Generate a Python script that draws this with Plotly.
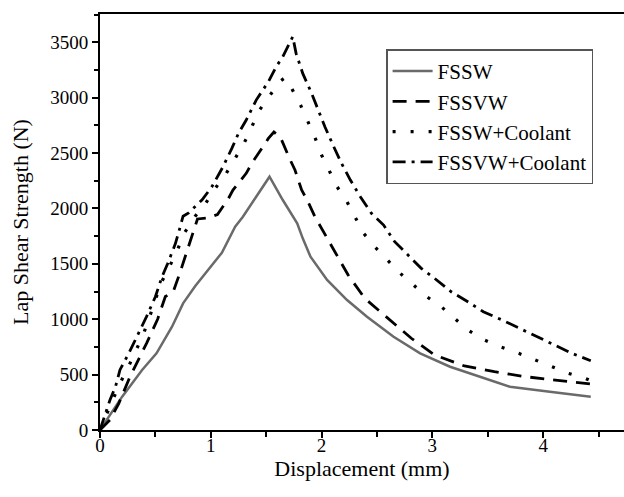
import plotly.graph_objects as go

# ---- data ----
fssw_x = [0, 0.10, 0.20, 0.38, 0.51, 0.65, 0.75, 0.86, 0.98, 1.10, 1.22, 1.29, 1.41, 1.53,
          1.65, 1.78, 1.83, 1.90, 2.05, 2.23, 2.41, 2.65, 2.89, 3.16, 3.43, 3.70, 4.06, 4.43]
fssw_y = [0, 150, 301, 542, 692, 932, 1143, 1300, 1455, 1600, 1835, 1925, 2106, 2286,
          2076, 1865, 1730, 1564, 1354, 1173, 1023, 842, 692, 571, 481, 391, 346, 301]

fssvw_x = [0, 0.09, 0.17, 0.27, 0.42, 0.52, 0.59, 0.66, 0.72, 0.80, 0.88, 0.98, 1.06, 1.16,
           1.20, 1.32, 1.37, 1.46, 1.52, 1.57, 1.63, 1.71, 1.76, 1.82, 1.87, 1.94, 2.11,
           2.24, 2.39, 2.60, 2.81, 3.02, 3.29, 3.56, 3.84, 4.11, 4.43]
fssvw_y = [0, 90, 241, 480, 782, 1000, 1205, 1245, 1414, 1657, 1905, 1915, 1945, 2091,
           2166, 2317, 2407, 2542, 2632, 2690, 2640, 2452, 2347, 2166, 2076, 1925, 1625,
           1399, 1188, 1008, 828, 677, 578, 526, 481, 451, 415]

fsswc_x = [0, 0.08, 0.17, 0.27, 0.39, 0.48, 0.55, 0.63, 0.70, 0.76, 0.86, 0.95, 1.04, 1.14,
           1.22, 1.30, 1.37, 1.44, 1.53, 1.62, 1.67, 1.73, 1.81, 1.87, 1.94, 2.00, 2.14,
           2.23, 2.38, 2.48, 2.60, 2.71, 2.83, 2.95, 3.08, 3.20, 3.32, 3.47, 3.61, 3.78,
           3.93, 4.08, 4.23, 4.38, 4.43]
fsswc_y = [0, 180, 400, 600, 860, 1114, 1325, 1480, 1627, 1777, 1930, 2040, 2181, 2317,
           2452, 2587, 2737, 2888, 3014, 3144, 3180, 3084, 2933, 2798, 2642, 2482, 2196,
           2060, 1775, 1654, 1534, 1414, 1309, 1203, 1113, 1008, 903, 812, 752, 692,
           632, 571, 511, 466, 445]

fssvwc_x = [0, 0.09, 0.14, 0.18, 0.26, 0.35, 0.42, 0.50, 0.56, 0.61, 0.68, 0.72, 0.75, 0.80,
            0.92, 1.01, 1.11, 1.19, 1.25, 1.32, 1.41, 1.52, 1.59, 1.65, 1.74, 1.77, 1.83,
            1.91, 1.97, 2.03, 2.11, 2.18, 2.26, 2.35, 2.45, 2.56, 2.66, 2.78, 2.90, 3.02,
            3.17, 3.32, 3.46, 3.63, 3.94, 4.26, 4.43]
fssvwc_y = [0, 271, 391, 542, 692, 873, 1023, 1203, 1384, 1500, 1680, 1820, 1930, 1960,
            2076, 2196, 2376, 2542, 2678, 2798, 2978, 3144, 3279, 3369, 3550, 3400, 3219,
            3039, 2888, 2737, 2557, 2407, 2256, 2106, 1956, 1850, 1700, 1579, 1459, 1369,
            1248, 1158, 1068, 993, 842, 692, 625]

series_names = ["FSSW", "FSSVW", "FSSW+Coolant", "FSSVW+Coolant"]
x_ticks = [0, 1, 2, 3, 4]
y_ticks = [0, 500, 1000, 1500, 2000, 2500, 3000, 3500]

FONT = '"Liberation Serif", "Times New Roman", serif'

fig = go.Figure()
styles = [
    dict(color="#6a6a6a", width=2.5, dash="solid"),
    dict(color="black", width=2.8, dash="14px,9px"),
    dict(color="black", width=3.2, dash="3px,15px"),
    dict(color="black", width=2.8, dash="13px,6px,3px,6px"),
]
data = [(fssw_x, fssw_y), (fssvw_x, fssvw_y), (fsswc_x, fsswc_y), (fssvwc_x, fssvwc_y)]
for (xs, ys), name, st in zip(data, series_names, styles):
    fig.add_trace(go.Scatter(x=xs, y=ys, mode="lines", name=name, line=st))

fig.update_layout(
    width=624, height=497,
    margin=dict(l=100, r=0, t=14, b=67, autoexpand=False),
    paper_bgcolor="white", plot_bgcolor="white",
    font=dict(family=FONT, color="black", size=19),
    showlegend=True,
    legend=dict(
        x=0.546, y=0.915, xanchor="left", yanchor="top",
        font=dict(family=FONT, size=21, color="black"),
        bordercolor="#555555", borderwidth=1.5, bgcolor="white",
        tracegroupgap=0, itemwidth=40,
    ),
)
fig.update_xaxes(
    range=[0, 4.73], tickvals=x_ticks, ticktext=[str(v) for v in x_ticks],
    showline=True, linecolor="black", linewidth=2, mirror=True,
    ticks="outside", ticklen=6, tickwidth=2, tickcolor="black",
    minor=dict(dtick=0.5, tick0=0, ticks="outside", ticklen=5, tickwidth=2, tickcolor="black"),
    showgrid=False, zeroline=False, automargin=False,
    tickfont=dict(family=FONT, size=19), ticklabelstandoff=-9,
    title=dict(text="Displacement (mm)", font=dict(family=FONT, size=22), standoff=1),
)
fig.update_yaxes(
    range=[0, 3755], tickvals=y_ticks, ticktext=[str(v) for v in y_ticks],
    showline=True, linecolor="black", linewidth=2, mirror=False,
    ticks="outside", ticklen=6, tickwidth=2, tickcolor="black",
    minor=dict(dtick=250, tick0=0, ticks="outside", ticklen=4, tickwidth=2, tickcolor="black"),
    showgrid=False, zeroline=False, automargin=False,
    tickfont=dict(family=FONT, size=19),
    title=dict(text="Lap Shear Strength (N)", font=dict(family=FONT, size=22), standoff=16),
)

fig.write_html(
    "out.html",
    config={"displayModeBar": False},
    post_script="document.body.style.margin='0';document.body.style.overflow='hidden';",
)
